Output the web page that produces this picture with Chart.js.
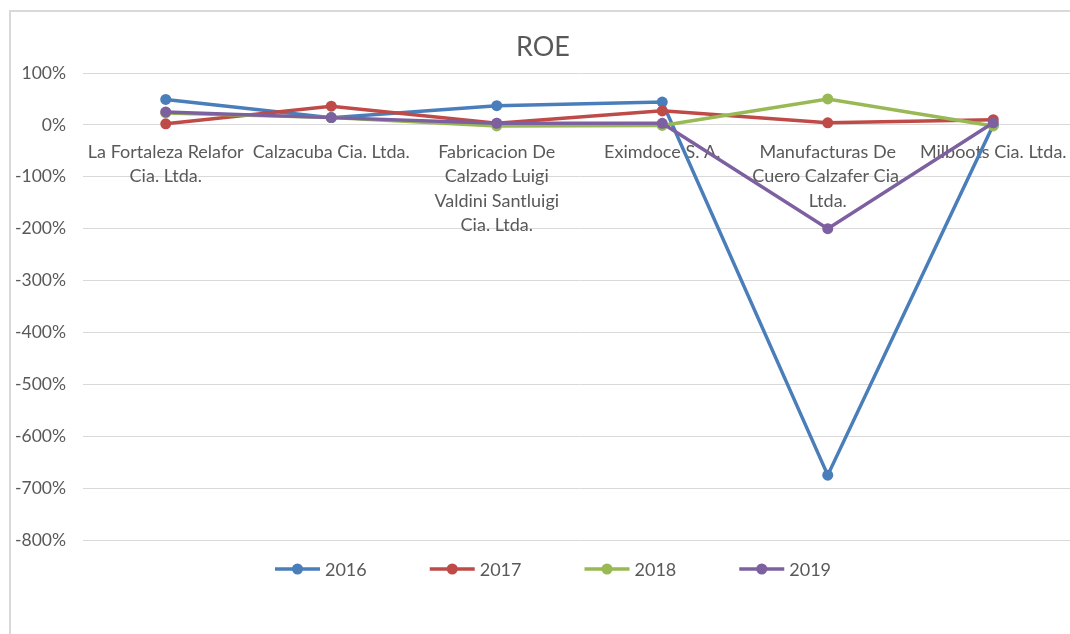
<!DOCTYPE html>
<html><head><meta charset="utf-8">
<script src="https://cdn.jsdelivr.net/npm/chart.js@4/dist/chart.umd.min.js"></script>
<style>
html,body{margin:0;padding:0;background:#fff;overflow:hidden}
#root{position:relative;width:1070px;height:634px;overflow:hidden;background:#fff}
#frame{position:absolute;left:9px;top:10px;width:1061px;height:624px;border-left:2px solid #d9d9d9;border-top:2px solid #d9d9d9;box-sizing:border-box}
#c{position:absolute;left:0;top:0}
</style></head><body>
<div id="root">
<div id="frame"></div>
<canvas id="c" width="1090" height="634"></canvas>
</div>
<script>
const categories = [
  ["La Fortaleza Relafor", "Cia. Ltda."],
  "Calzacuba Cia. Ltda.",
  ["Fabricacion De", "Calzado Luigi", "Valdini Santluigi", "Cia. Ltda."],
  "Eximdoce S. A.",
  ["Manufacturas De", "Cuero Calzafer Cia.", "Ltda."],
  "Milboots Cia. Ltda."
];
const seriesNames = ["2016", "2017", "2018", "2019"];
const roe2016 = [49, 14, 37, 44, -675, 0];
const roe2017 = [2, 36, 3, 27, 4, 10];
const roe2018 = [23, 14, -2, -1, 50, -2];
const roe2019 = [25, 14, 3, 3, -200, 4];
const colors = ["#4A7EBB", "#BE4B48", "#98B954", "#7D60A0"];
const yMin = -800, yMax = 100, yStep = 100;

const FONT = "Lato, 'Liberation Sans', sans-serif";
const allSeries = [roe2016, roe2017, roe2018, roe2019];

const legendPlugin = {
  id: 'excelLegend',
  afterDraw(chart) {
    const ctx = chart.ctx;
    const ds = chart.data.datasets;
    ctx.save();
    ctx.font = "18px " + FONT;
    const lineW = 45, gapT = 5, gapItem = 63;
    const widths = ds.map(d => lineW + gapT + ctx.measureText(d.label).width);
    const total = widths.reduce((a, b) => a + b, 0) + gapItem * (ds.length - 1);
    let x = 553 - total / 2;
    const y = 569;
    ds.forEach((d, i) => {
      ctx.strokeStyle = d.borderColor;
      ctx.lineWidth = 3.5;
      ctx.beginPath(); ctx.moveTo(x, y); ctx.lineTo(x + lineW, y); ctx.stroke();
      ctx.fillStyle = d.borderColor;
      ctx.beginPath(); ctx.arc(x + lineW / 2, y, 5.5, 0, Math.PI * 2); ctx.fill();
      ctx.fillStyle = "#595959";
      ctx.textBaseline = "middle";
      ctx.textAlign = "left";
      ctx.fillText(d.label, x + lineW + gapT, y + 1);
      x += widths[i] + gapItem;
    });
    ctx.restore();
  }
};

new Chart(document.getElementById('c'), {
  type: 'line',
  data: {
    labels: categories,
    datasets: seriesNames.map((n, i) => ({
      label: n,
      data: allSeries[i],
      borderColor: colors[i],
      backgroundColor: colors[i],
      borderWidth: 3.5,
      pointRadius: 5.5,
      pointHoverRadius: 5.5,
      pointBorderWidth: 0,
      tension: 0,
      fill: false,
      order: 4 - i
    }))
  },
  options: {
    responsive: false,
    animation: false,
    events: [],
    layout: { padding: { left: 10, right: 14, top: 18, bottom: 94 } },
    plugins: {
      legend: { display: false },
      tooltip: { enabled: false },
      title: {
        display: true,
        text: 'ROE',
        color: '#595959',
        font: { family: FONT, size: 27, weight: 'normal' },
        padding: { top: 13, bottom: 9.6 }
      }
    },
    scales: {
      x: {
        type: 'category',
        position: { y: 0 },
        offset: true,
        grid: { display: false, drawTicks: false },
        border: { display: false },
        ticks: {
          autoSkip: false,
          maxRotation: 0,
          minRotation: 0,
          padding: 15,
          color: '#595959',
          font: { family: FONT, size: 18, lineHeight: 1.36 }
        },
        afterFit: s => { s.height = 0; }
      },
      y: {
        min: yMin,
        max: yMax,
        grid: { color: '#d9d9d9', lineWidth: 1, drawTicks: false },
        border: { display: false },
        ticks: {
          stepSize: yStep,
          padding: 17,
          color: '#595959',
          font: { family: FONT, size: 17.5 },
          callback: v => v + '%'
        },
        afterFit: s => { s.width = 73; }
      }
    }
  },
  plugins: [legendPlugin]
});
</script>
</body></html>
